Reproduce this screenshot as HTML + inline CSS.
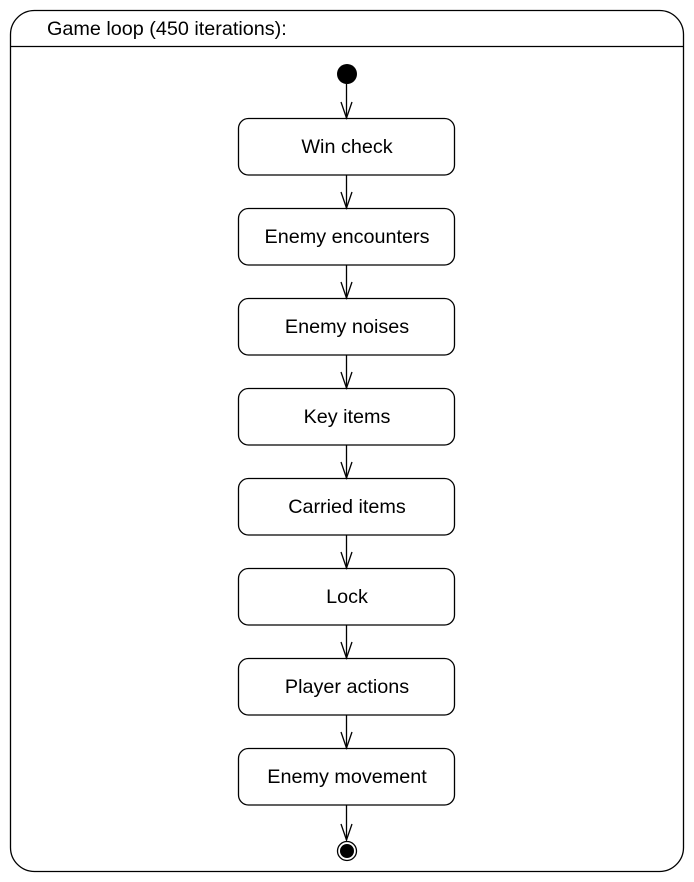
<!DOCTYPE html>
<html><head><meta charset="utf-8"><style>
html,body{margin:0;padding:0;background:#fff;}
svg{display:block;}
text{font-family:"Liberation Sans",sans-serif;font-size:19.8px;fill:#000;}
</style></head><body>
<svg width="694" height="882" viewBox="0 0 694 882" xmlns="http://www.w3.org/2000/svg">
<rect x="10.5" y="10.5" width="673" height="861" rx="24" ry="24" fill="#fff" stroke="#000" stroke-width="1.3"/>
<line x1="10.5" y1="46.5" x2="683.5" y2="46.5" stroke="#000" stroke-width="1.3"/>
<text x="47" y="35">Game loop (450 iterations):</text>
<circle cx="347" cy="74" r="10" fill="#000"/>
<g stroke="#000" stroke-width="1.3" fill="none">
<line x1="346.5" y1="84" x2="346.5" y2="118"/><polyline points="341,102 346.5,118 352,102"/>
<line x1="346.5" y1="175" x2="346.5" y2="208"/><polyline points="341,192 346.5,208 352,192"/>
<line x1="346.5" y1="265" x2="346.5" y2="298"/><polyline points="341,282 346.5,298 352,282"/>
<line x1="346.5" y1="355" x2="346.5" y2="388"/><polyline points="341,372 346.5,388 352,372"/>
<line x1="346.5" y1="445" x2="346.5" y2="478"/><polyline points="341,462 346.5,478 352,462"/>
<line x1="346.5" y1="535" x2="346.5" y2="568"/><polyline points="341,552 346.5,568 352,552"/>
<line x1="346.5" y1="625" x2="346.5" y2="658"/><polyline points="341,642 346.5,658 352,642"/>
<line x1="346.5" y1="715" x2="346.5" y2="748"/><polyline points="341,732 346.5,748 352,732"/>
<line x1="346.5" y1="805" x2="346.5" y2="840"/><polyline points="341,824 346.5,840 352,824"/>
<rect x="238.5" y="118.5" width="216" height="56.5" rx="10"/>
<rect x="238.5" y="208.5" width="216" height="56.5" rx="10"/>
<rect x="238.5" y="298.5" width="216" height="56.5" rx="10"/>
<rect x="238.5" y="388.5" width="216" height="56.5" rx="10"/>
<rect x="238.5" y="478.5" width="216" height="56.5" rx="10"/>
<rect x="238.5" y="568.5" width="216" height="56.5" rx="10"/>
<rect x="238.5" y="658.5" width="216" height="56.5" rx="10"/>
<rect x="238.5" y="748.5" width="216" height="56.5" rx="10"/>
<circle cx="347" cy="851" r="9.5" fill="#fff"/>
</g>
<circle cx="347" cy="851" r="7" fill="#000"/>
<g text-anchor="middle">
<text x="347" y="153">Win check</text>
<text x="347" y="243">Enemy encounters</text>
<text x="347" y="333">Enemy noises</text>
<text x="347" y="423">Key items</text>
<text x="347" y="513">Carried items</text>
<text x="347" y="603">Lock</text>
<text x="347" y="693">Player actions</text>
<text x="347" y="783">Enemy movement</text>
</g>
</svg>
</body></html>
